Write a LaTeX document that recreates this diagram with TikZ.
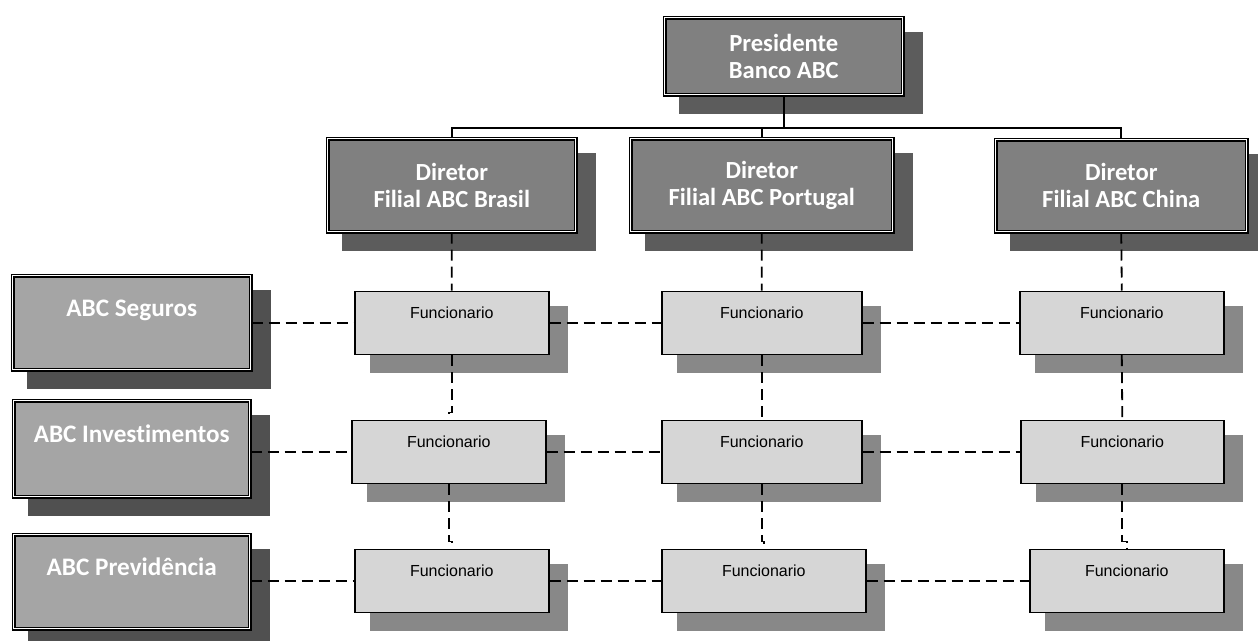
\documentclass[tikz,border=0pt]{standalone}
\usepackage{fontspec}
\setmainfont{Liberation Sans}
\newfontfamily\carl[Ligatures=NoCommon]{Carlito}
\usetikzlibrary{backgrounds}
\definecolor{dirfill}{RGB}{128,128,128}
\definecolor{dirshadow}{RGB}{92,92,92}
\definecolor{leftfill}{RGB}{165,165,165}
\definecolor{leftshadow}{RGB}{80,80,80}
\definecolor{funcfill}{RGB}{214,214,214}
\definecolor{funcshadow}{RGB}{136,136,136}
\begin{document}
\begin{tikzpicture}[x=1pt,y=-1pt,
  bigbox/.style={draw=black, double=white, line width=1.5pt, double distance=1.2pt,
    fill=dirfill, anchor=north west, text=white, inner sep=0pt,
    font=\carl\bfseries\fontsize{24.6}{27}\selectfont},
  dirbox/.style={bigbox, align=center},
  leftbox/.style={bigbox, fill=leftfill, text height=17pt, text depth=29pt,
    font=\carl\bfseries\fontsize{25.2}{27}\selectfont},
  funcbox/.style={draw=black, line width=1.6pt, fill=funcfill, anchor=north west,
    inner sep=0pt, font=\fontsize{16}{18}\selectfont, text height=12pt, text depth=20pt,
    minimum height=63pt},
  conn/.style={draw=black, line width=1.8pt},
  dconn/.style={draw=black, line width=1.8pt, dash pattern=on 11pt off 6pt}]
\useasboundingbox (0,0) rectangle (1258,640);

% top level
\node[dirbox, minimum width=238pt, minimum height=77pt] (pres) at (664,17) {Presidente\\Banco ABC};
\node[dirbox, minimum width=248pt, minimum height=93pt] (dirB) at (327,138) {Diretor\\Filial ABC Brasil};
\node[dirbox, minimum width=262pt, minimum height=93pt] (dirP) at (630,138) {Diretor\\Filial ABC Portugal};
\node[dirbox, minimum width=251pt, minimum height=92pt] (dirC) at (995,139) {Diretor\\Filial ABC China};

% left boxes
\node[leftbox, minimum width=238pt, minimum height=94pt] (seg) at (12,275) {ABC Seguros};
\node[leftbox, minimum width=236pt, minimum height=96pt] (inv) at (13,400) {ABC Investimentos};
\node[leftbox, minimum width=236pt, minimum height=94pt] (prev) at (13,534) {ABC Previdência};

% funcionarios
\node[funcbox, minimum width=194pt] (r1c1) at (354,290.5) {Funcionario};
\node[funcbox, minimum width=194pt] (r2c1) at (351,419.5) {Funcionario};
\node[funcbox, minimum width=194pt] (r3c1) at (354,548.5) {Funcionario};
\node[funcbox, minimum width=200pt] (r1c2) at (661,290.5) {Funcionario};
\node[funcbox, minimum width=200pt] (r2c2) at (661,419.5) {Funcionario};
\node[funcbox, minimum width=204pt] (r3c2) at (661,548.5) {Funcionario};
\node[funcbox, minimum width=204pt] (r1c3) at (1019,290.5) {Funcionario};
\node[funcbox, minimum width=203pt] (r2c3) at (1020,419.5) {Funcionario};
\node[funcbox, minimum width=194pt] (r3c3) at (1029,548.5) {Funcionario};

% shadows
\begin{scope}[on background layer]
  \foreach \n in {pres,dirB,dirP,dirC}
    \fill[dirshadow] ([shift={(15,14.5)}]\n.north west) rectangle ([shift={(19,18.5)}]\n.south east);
  \foreach \n in {seg,inv,prev}
    \fill[leftshadow] ([shift={(15,14.5)}]\n.north west) rectangle ([shift={(19,18.5)}]\n.south east);
  \foreach \n in {r1c1,r2c1,r3c1,r1c2,r2c2,r3c2,r1c3,r2c3,r3c3}
    \fill[funcshadow] ([shift={(16,15.5)}]\n.north west) rectangle ([shift={(18,17.5)}]\n.south east);
\end{scope}

% solid connectors
\coordinate (bus) at (783,128);
\draw[conn] (pres.south) -- (pres.south |- bus);
\draw[conn] (dirB.north) |- (dirC.north |- bus) -- (dirC.north);
\draw[conn] (dirP.north) -- (dirP.north |- bus);

% dashed vertical connectors
\draw[dconn] (dirB.south) -- (r1c1.north);
\draw[dconn] (dirP.south) -- (r1c2.north);
\draw[dconn] (dirC.south) -- (r1c3.north);
\draw[dconn] (r1c1.south) |- ([yshift=7pt]r2c1.north) -- (r2c1.north);
\draw[dconn] (r2c1.south) |- ([yshift=7pt]r3c1.north) -- (r3c1.north);
\draw[dconn] (r1c2.south) -- (r2c2.north);
\draw[dconn] (r2c2.south) |- ([yshift=7pt]r3c2.north) -- (r3c2.north);
\draw[dconn] (r1c3.south) -- (r2c3.north);
\draw[dconn] (r2c3.south) |- ([yshift=7pt]r3c3.north) -- (r3c3.north);

% dashed horizontal connectors
\draw[dconn] (seg.east |- r1c1.west) -- (r1c1.west);
\draw[dconn] (r1c1.east) -- (r1c2.west);
\draw[dconn] (r1c2.east) -- (r1c3.west);
\draw[dconn] (inv.east |- r2c1.west) -- (r2c1.west);
\draw[dconn] (r2c1.east) -- (r2c2.west);
\draw[dconn] (r2c2.east) -- (r2c3.west);
\draw[dconn] (prev.east |- r3c1.west) -- (r3c1.west);
\draw[dconn] (r3c1.east) -- (r3c2.west);
\draw[dconn] (r3c2.east) -- (r3c3.west);
\end{tikzpicture}
\end{document}
